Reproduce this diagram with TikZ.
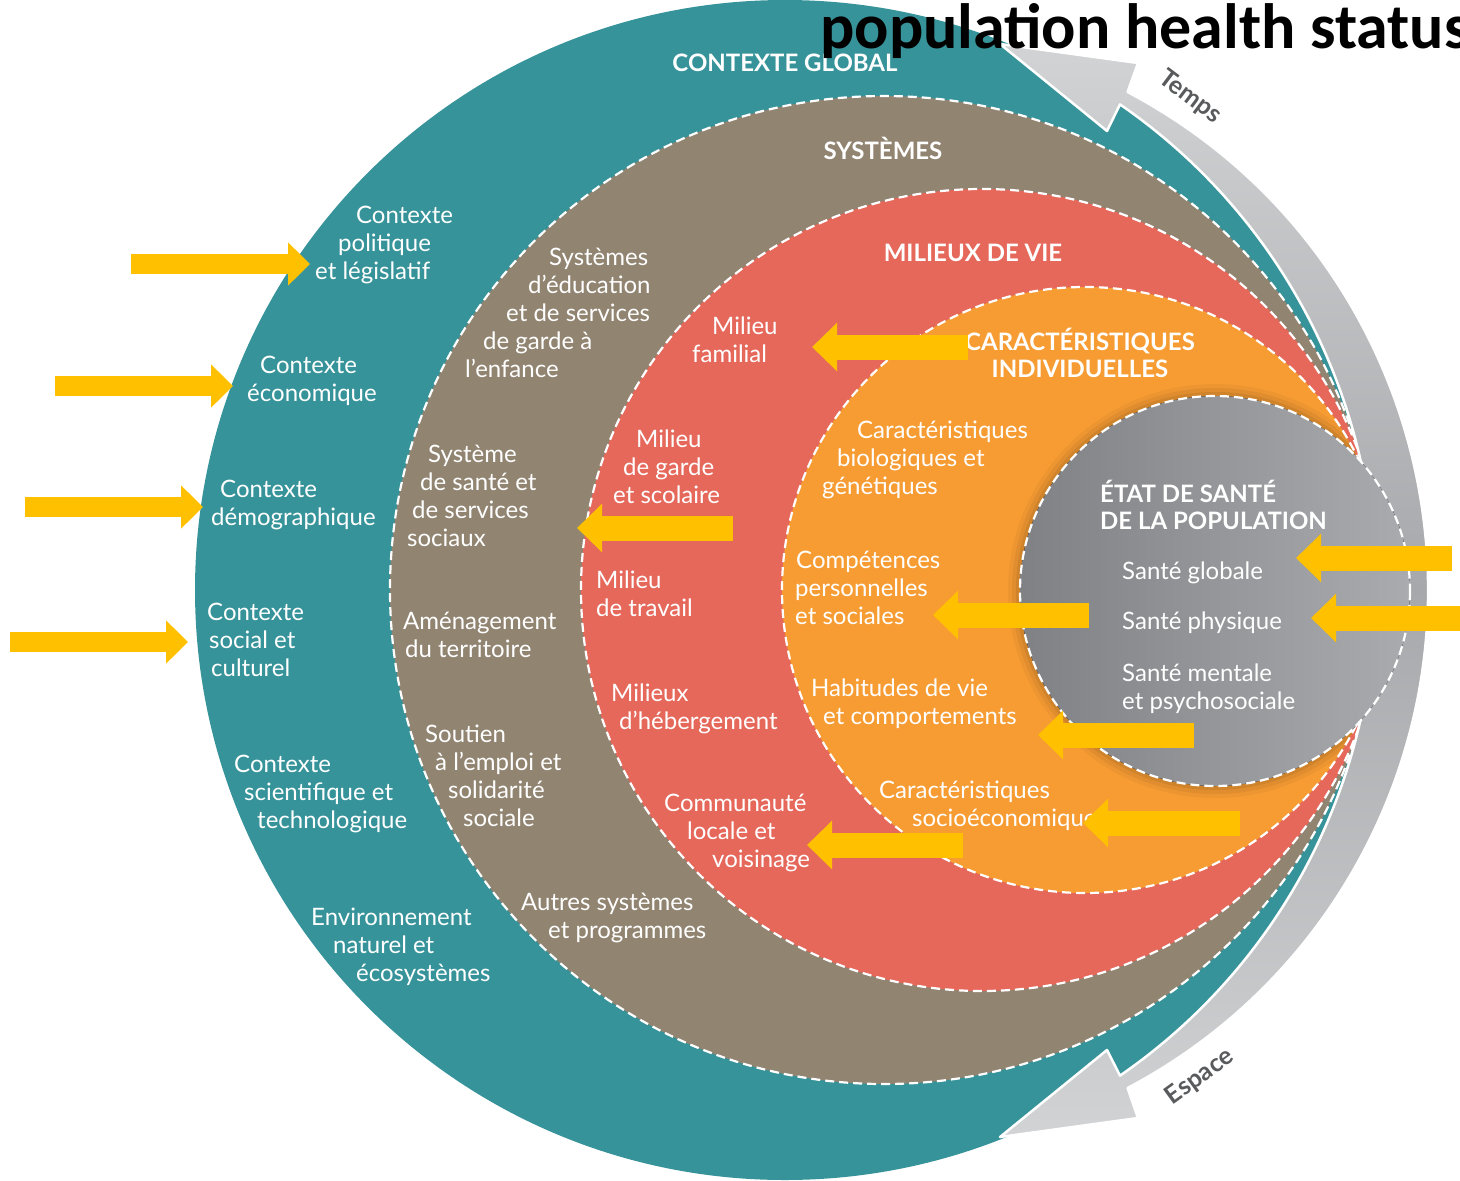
\documentclass[tikz,border=0pt]{standalone}
\usepackage{fontspec}
\setmainfont{Lato}
\newfontfamily\titlefont{Carlito}
\usetikzlibrary{arrows.meta,calc}

\definecolor{tealring}{HTML}{37939A}
\definecolor{brownring}{HTML}{918471}
\definecolor{redring}{HTML}{E5685A}
\definecolor{orangering}{HTML}{F69C33}
\definecolor{greydark}{HTML}{7F8184}
\definecolor{greylight}{HTML}{A9ABAE}
\definecolor{bandlight}{HTML}{D2D3D5}
\definecolor{bandmid}{HTML}{A6A8AB}
\definecolor{arrowyellow}{HTML}{FFC000}
\definecolor{labelgrey}{HTML}{595A5C}

\tikzset{
  ringedge/.style={draw=white, line width=2.2, dash pattern=on 9pt off 5pt},
  % multi-line labels hang on the baseline of their last line
  lbl/.style={text=white, inner sep=0, anchor=base west, align=left,
    font=\fontsize{24}{28}\selectfont},
  head/.style={text=white, inner sep=0, anchor=base,
    font=\bfseries\fontsize{24}{27}\selectfont},
  yarrowr/.style={draw=arrowyellow, line width=20, -{Triangle[length=22pt,width=42pt]}},
  yarrowl/.style={draw=arrowyellow, line width=25, -{Triangle[length=25pt,width=47pt]}},
}

\begin{document}
\begin{tikzpicture}[x=1pt,y=-1pt]
\useasboundingbox (0,0) rectangle (1460,1181);
\clip (0,0) rectangle (1460,1181);

% ring centres
\coordinate (globc) at (785,590);
\coordinate (bandc) at (865,590);
\coordinate (sysc) at (884,590);
\coordinate (milc) at (982,590);
\coordinate (carc) at (1085,590);
\coordinate (santec) at (1215,591);

% global context
\fill[tealring] (globc) circle[radius=590];

% systems
\fill[brownring] (sysc) circle[radius=494];
\draw[ringedge] (sysc) circle[radius=494];

% living environments
\fill[redring] (milc) circle[radius=401];
\draw[ringedge] (milc) circle[radius=401];

% individual characteristics
\fill[orangering] (carc) circle[radius=303];
\begin{scope}
  \clip (carc) circle[radius=303];
  \foreach \r/\o in {12/0.04,8/0.05,4/0.07}
    \fill[black, opacity=\o] (santec) circle[radius=195+\r];
\end{scope}
\draw[ringedge] (carc) circle[radius=303];

% time / space band with its two heads
\coordinate (headt) at (1000,44);
\coordinate (barbto) at (1138,63);
\coordinate (barbti) at (1107,131);
\coordinate (headb) at (1000,1137);
\coordinate (barbbo) at (1138,1118);
\coordinate (barbbi) at (1107,1050);
\coordinate (bandt) at ($(bandc)+(-62.2:563)$);
\coordinate (notchb) at ($(globc)+(55.4:590)$);
\draw[white, line width=2.5, line join=round, top color=bandlight,
      bottom color=bandlight, middle color=bandmid]
  (headt) -- (barbto) -- (bandt)
  arc[start angle=-62.2, end angle=62.2, radius=563]
  -- (barbbo) -- (headb) -- (barbbi) -- (notchb)
  arc[start angle=55.4, end angle=-55.4, radius=590]
  -- (barbti) -- cycle;

% population health status
\fill[left color=greydark, right color=greylight] (santec) circle[radius=195];
\draw[ringedge] (santec) circle[radius=195];

% ring titles
\node[head] (hglob) at (785,71) {CONTEXTE GLOBAL};
\node[head] (hsys) at (883,159) {SYSTÈMES};
\node[head] (hmil) at (973,261) {MILIEUX DE VIE};
\node[head, align=center] (hcar) at (1080,377) {CARACTÉRISTIQUES\\INDIVIDUELLES};
\node[head, anchor=base west, align=left] (hetat) at (1100,529)
  {ÉTAT DE SANTÉ\\DE LA POPULATION};

% global context items
\node[lbl] (ctxpol) at (315,279)
  {\hspace*{41pt}Contexte\\\hspace*{23pt}politique\\et législatif};
\node[lbl] (ctxeco) at (247,401) {\hspace*{13pt}Contexte\\économique};
\node[lbl] (ctxdemo) at (211,525) {\hspace*{9pt}Contexte\\démographique};
\node[lbl] (ctxsoc) at (207,676)
  {Contexte\\\hspace*{2pt}social et\\\hspace*{4pt}culturel};
\node[lbl] (ctxsci) at (234,828)
  {Contexte\\\hspace*{10pt}scientifique et\\\hspace*{23pt}technologique};
\node[lbl] (ctxenv) at (311,981)
  {Environnement\\\hspace*{22pt}naturel et\\\hspace*{45pt}écosystèmes};

% systems items
\node[lbl] (syseduc) at (465,377)
  {\hspace*{84pt}Systèmes\\\hspace*{63pt}d’éducation\\\hspace*{41pt}et de services\\
   \hspace*{18pt}de garde à\\l’enfance};
\node[lbl] (syssante) at (407,546)
  {\hspace*{21pt}Système\\\hspace*{13pt}de santé et\\\hspace*{5pt}de services\\sociaux};
\node[lbl] (sysamen) at (403,657) {Aménagement\\\hspace*{2pt}du territoire};
\node[lbl] (sysemploi) at (425,826)
  {Soutien\\\hspace*{10pt}à l’emploi et\\\hspace*{23pt}solidarité\\\hspace*{38pt}sociale};
\node[lbl] (sysautres) at (521,938) {Autres systèmes\\\hspace*{27pt}et programmes};

% living environment items
\node[lbl] (milfam) at (692,362) {\hspace*{20pt}Milieu\\familial};
\node[lbl] (milgarde) at (613,503)
  {\hspace*{23pt}Milieu\\\hspace*{10pt}de garde\\et scolaire};
\node[lbl] (miltrav) at (596,616) {Milieu\\de travail};
\node[lbl] (milheb) at (611,729) {Milieux\\\hspace*{8pt}d’hébergement};
\node[lbl] (milcomm) at (664,867)
  {Communauté\\\hspace*{23pt}locale et\\\hspace*{48pt}voisinage};

% individual characteristics items
\node[lbl] (carbio) at (822,494)
  {\hspace*{35pt}Caractéristiques\\\hspace*{15pt}biologiques et\\génétiques};
\node[lbl] (carcomp) at (795,624)
  {\hspace*{1pt}Compétences\\personnelles\\et sociales};
\node[lbl] (carhab) at (811,724) {Habitudes de vie\\\hspace*{12pt}et comportements};
\node[lbl] (carsocio) at (879,826) {Caractéristiques\\\hspace*{33pt}socioéconomiques};

% health status items
\node[lbl] (santeglob) at (1122,579) {Santé globale};
\node[lbl] (santephys) at (1122,629) {Santé physique};
\node[lbl] (santement) at (1122,709) {Santé mentale\\et psychosociale};

% band labels
\node[rotate=-37, text=labelgrey, font=\bfseries\fontsize{25}{28}\selectfont]
  (temps) at (1190,97) {Temps};
\node[rotate=36, text=labelgrey, font=\bfseries\fontsize{25}{28}\selectfont]
  (espace) at (1200,1077) {Espace};

% yellow arrows pointing into the rings
\foreach \n/\xs/\xe/\yy in {pol/131/310/264, eco/55/233/386,
    demo/25/203/507, soc/10/188/642}{
  \coordinate (push\n-s) at (\xs,\yy);
  \coordinate (push\n-e) at (\xe,\yy);
  \draw[yarrowr] (push\n-s) -- (push\n-e);
}
% yellow arrows pointing left
\foreach \n/\xs/\xe/\yy in {fam/968/812/347, garde/733/577/528,
    comp/1089/933/615, hab/1194/1038/735, socio/1240/1083/823,
    comm/963/807/845, glob/1452/1296/558, phys/1465/1311/618}{
  \coordinate (pull\n-s) at (\xs,\yy);
  \coordinate (pull\n-e) at (\xe,\yy);
  \draw[yarrowl] (pull\n-s) -- (pull\n-e);
}

% heading
\node[anchor=base west, inner sep=0,
      font=\titlefont\bfseries\fontsize{64}{64}\selectfont]
  (title) at (820,48) {population health status};
\end{tikzpicture}
\end{document}
